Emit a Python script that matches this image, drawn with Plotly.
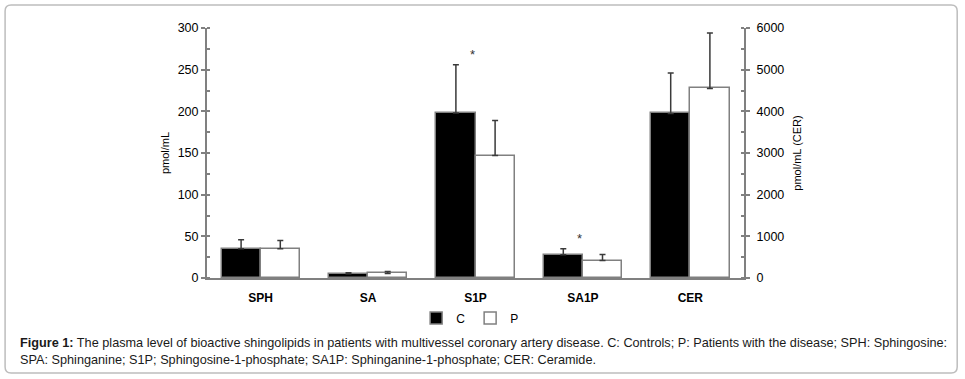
import plotly.graph_objects as go

categories = ["SPH", "SA", "S1P", "SA1P", "CER"]
control_mean = [35, 5, 198, 28, 3950]
control_err = [11, 1.3, 58, 7.2, 970]
patient_mean = [35, 5.5, 147, 21, 4550]
patient_err = [10, 2.4, 42, 7.2, 1330]
significant = ["S1P", "SA1P"]
left_ticks = [0, 50, 100, 150, 200, 250, 300]
right_ticks = [0, 1000, 2000, 3000, 4000, 5000, 6000]

W = 0.365
GRID = "#808080"
ERR = "#3a3a3a"
FONT = "Liberation Sans, Arial, sans-serif"

fig = go.Figure()

def add_pair(idx, yaxis, show):
    cats = [categories[i] for i in idx]
    fig.add_trace(go.Bar(
        x=cats, y=[control_mean[i] for i in idx], yaxis=yaxis,
        name="C", legendgroup="C", showlegend=show,
        width=W, offset=-W,
        marker=dict(color="black", line=dict(color=GRID, width=1.5)),
        error_y=dict(type="data", array=[control_err[i] for i in idx],
                     arrayminus=[0] * len(idx), symmetric=False,
                     color=ERR, thickness=1.5, width=3),
    ))
    fig.add_trace(go.Bar(
        x=cats, y=[patient_mean[i] for i in idx], yaxis=yaxis,
        name="P", legendgroup="P", showlegend=show,
        width=W, offset=0,
        marker=dict(color="white", line=dict(color=GRID, width=1.5)),
        error_y=dict(type="data", array=[patient_err[i] for i in idx],
                     arrayminus=[0] * len(idx), symmetric=False,
                     color=ERR, thickness=1.5, width=3),
    ))

add_pair([0, 1, 2, 3], "y", True)
add_pair([4], "y2", False)

for c in significant:
    i = categories.index(c)
    fig.add_annotation(x=c, y=control_mean[i] + control_err[i], xref="x", yref="y",
                       text="*", showarrow=False, yanchor="bottom", yshift=1, xshift=-3,
                       font=dict(size=13, color="#333", family=FONT))

caption = ("<b>Figure 1:</b> The plasma level of bioactive shingolipids in patients with multivessel "
           "coronary artery disease. C: Controls; P: Patients with the disease; SPH: Sphingosine:<br>"
           "SPA: Sphinganine; S1P; Sphingosine-1-phosphate; SA1P: Sphinganine-1-phosphate; CER: Ceramide.")
fig.add_annotation(x=-0.352, y=-0.225, xref="paper", yref="paper", xanchor="left", yanchor="top",
                   align="left", text=caption, showarrow=False,
                   font=dict(size=12.7, color="#1a1a1a", family=FONT))

# outer rounded border (paper coords: plot area 537 x 250 px)
x0, x1 = -0.376, 1.397
y0, y1 = -0.38, 1.092
rx, ry = 6 / 537, 6 / 250
path = (f"M{x0+rx},{y1} L{x1-rx},{y1} Q{x1},{y1} {x1},{y1-ry} L{x1},{y0+ry} Q{x1},{y0} {x1-rx},{y0} "
        f"L{x0+rx},{y0} Q{x0},{y0} {x0},{y0+ry} L{x0},{y1-ry} Q{x0},{y1} {x0+rx},{y1} Z")
fig.add_shape(type="path", path=path, xref="paper", yref="paper",
              line=dict(color="#bdbdbd", width=1.5), layer="below")

fig.update_layout(
    width=965, height=379, autosize=False,
    margin=dict(l=207, r=221, t=28, b=101),
    paper_bgcolor="white", plot_bgcolor="white",
    barmode="overlay", bargap=0,
    font=dict(family=FONT, size=12, color="black"),
    showlegend=True,
    legend=dict(orientation="h", x=0.49, xanchor="center", y=-0.16, yanchor="middle",
                font=dict(size=12), itemwidth=30, bgcolor="rgba(0,0,0,0)"),
    xaxis=dict(type="category", categoryorder="array", categoryarray=categories,
               range=[-0.5, 4.5], showline=True, linecolor=GRID, linewidth=2,
               ticks="", ticklabelstandoff=8, showgrid=False, zeroline=False,
               tickfont=dict(size=12, family=FONT, weight="bold")),
    yaxis=dict(range=[0, 300], tickvals=left_ticks, showline=True, linecolor=GRID, linewidth=2,
               ticks="outside", ticklen=4, tickcolor=GRID, tickwidth=1.5,
               minor=dict(dtick=25, ticks="inside", ticklen=3, tickcolor=GRID, tickwidth=1.5),
               showgrid=False, zeroline=False, tickfont=dict(size=12.5),
               title=dict(text="pmol/mL", font=dict(size=11), standoff=6)),
    yaxis2=dict(range=[0, 6000], tickvals=right_ticks, overlaying="y", side="right",
                showline=True, linecolor=GRID, linewidth=2,
                ticks="outside", ticklen=4, tickcolor=GRID, tickwidth=1.5,
                minor=dict(dtick=500, ticks="inside", ticklen=3, tickcolor=GRID, tickwidth=1.5),
                showgrid=False, zeroline=False, tickfont=dict(size=12.5), ticklabelstandoff=4,
                title=dict(text="pmol/mL (CER)", font=dict(size=11), standoff=10)),
)

fig.write_html("out.html", config={"displayModeBar": False},
               post_script="document.body.style.margin='0';")
